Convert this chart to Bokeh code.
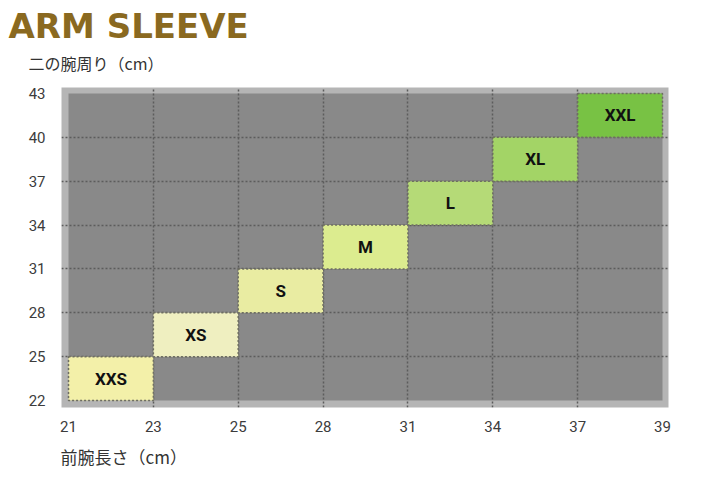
from bokeh.plotting import figure
from bokeh.models import ColumnDataSource, FixedTicker, Range1d, Title
from bokeh.core.properties import value
from bokeh.embed import file_html
from bokeh.resources import INLINE

# ---- data ----
sizes = ["XXS", "XS", "S", "M", "L", "XL", "XXL"]
forearm_lo = [21, 23, 25, 28, 31, 34, 37]
forearm_hi = [23, 25, 28, 31, 34, 37, 39]
upperarm_lo = [22, 25, 28, 31, 34, 37, 40]
upperarm_hi = [25, 28, 31, 34, 37, 40, 43]
x_tick_labels = [21, 23, 25, 28, 31, 34, 37, 39]
y_tick_labels = [22, 25, 28, 31, 34, 37, 40, 43]
colors = ["#f3f0a9", "#efefc0", "#e9eca2", "#dcec8f", "#b5da77", "#a3d466", "#78c244"]

# index positions on the evenly spaced scales
xi = {v: i for i, v in enumerate(x_tick_labels)}
yi = {v: i for i, v in enumerate(y_tick_labels)}
src = ColumnDataSource(dict(
    left=[xi[v] for v in forearm_lo], right=[xi[v] for v in forearm_hi],
    bottom=[yi[v] for v in upperarm_lo], top=[yi[v] for v in upperarm_hi],
    cx=[(xi[a] + xi[b]) / 2 for a, b in zip(forearm_lo, forearm_hi)],
    cy=[(yi[a] + yi[b]) / 2 for a, b in zip(upperarm_lo, upperarm_hi)],
    size=sizes, color=colors,
))

nx = len(x_tick_labels) - 1
ny = len(y_tick_labels) - 1
ux = 594 / nx
uy = 307 / ny

p = figure(width=705, height=484, output_backend="svg", toolbar_location=None,
           x_range=Range1d(-7 / ux, nx + 6 / ux), y_range=Range1d(-7 / uy, ny + 6 / uy),
           min_border_left=61, min_border_right=37, min_border_top=87, min_border_bottom=77)
p.outline_line_color = None
p.background_fill_color = "#b5b5b5"
p.border_fill_color = "white"

# dark panel
p.quad(left=[0], right=[nx], bottom=[0], top=[ny], fill_color="#898989",
       line_color=None, level="image")

# grid
for g, n in ((p.xgrid, nx), (p.ygrid, ny)):
    g.ticker = FixedTicker(ticks=list(range(1, n)))
    g.grid_line_color = "#5c5c5c"
    g.grid_line_dash = "2 2"
    g.grid_line_width = 1.5
    g.bounds = (0, n)

# size boxes
p.quad(left="left", right="right", bottom="bottom", top="top", source=src,
       fill_color="color", line_color="#6e6e62", line_dash="2 2", line_width=1.5)
p.text(x="cx", y="cy", text="size", source=src, text_align="center",
       text_baseline="middle", text_font=value("Roboto"), text_font_style="bold",
       text_font_size="17px", text_color="#111111")

# axes
p.xaxis.ticker = FixedTicker(ticks=list(range(len(x_tick_labels))))
p.xaxis.major_label_overrides = {i: str(v) for i, v in enumerate(x_tick_labels)}
p.yaxis.ticker = FixedTicker(ticks=list(range(len(y_tick_labels))))
p.yaxis.major_label_overrides = {i: str(v) for i, v in enumerate(y_tick_labels)}
for ax in (p.xaxis, p.yaxis):
    ax.axis_line_color = None
    ax.major_tick_line_color = None
    ax.minor_tick_line_color = None
    ax.major_tick_in = 0
    ax.major_tick_out = 0
    ax.major_label_text_font = "Roboto"
    ax.major_label_text_font_size = "15px"
    ax.major_label_text_color = "#3c3c3c"
p.xaxis.major_label_standoff = 13
p.yaxis.major_label_standoff = 16

# titles (stacked outward from the frame: axis title, main title, small spacer)
ytitle = Title(text="二の腕周り（cm）", align="left", offset=-33,
               text_font="Noto Sans CJK JP", text_font_size="16px",
               text_font_style="normal", text_color="#333333", standoff=25)
p.add_layout(ytitle, "above")
main_title = Title(text="ARM SLEEVE", align="left", offset=-53,
                   text_font="DejaVu Sans", text_font_style="bold",
                   text_font_size="34px", text_color="#8a6920", standoff=-18)
p.add_layout(main_title, "above")
p.title.text = " "
p.title.text_font_size = "4px"
p.title.standoff = 0

xtitle = Title(text="前腕長さ（cm）", align="left", offset=-1,
               text_font="Noto Sans CJK JP", text_font_size="17px",
               text_font_style="normal", text_color="#333333", standoff=15)
p.add_layout(xtitle, "below")

open("out.html", "w").write(file_html(p, INLINE))
